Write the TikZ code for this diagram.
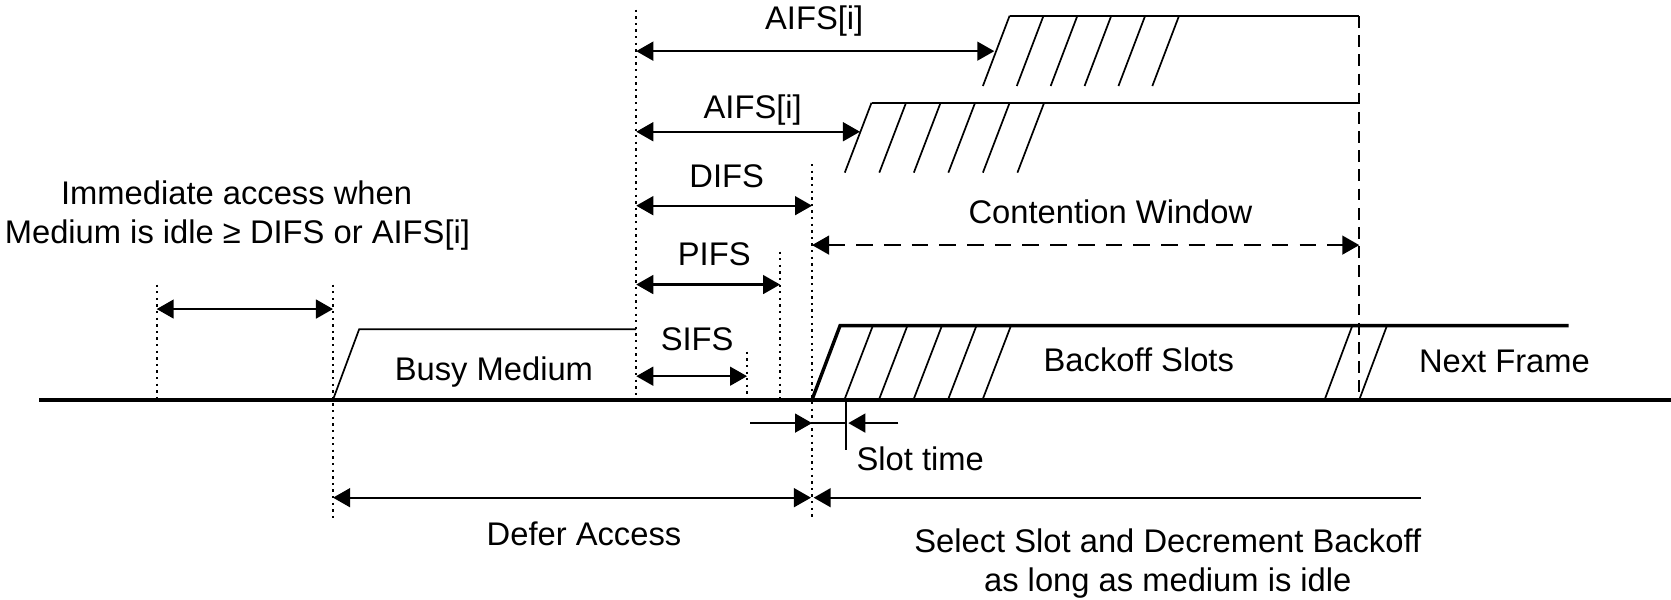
\documentclass[tikz,border=0pt]{standalone}
\usepackage{fontspec}
\setmainfont{Liberation Sans}
\usetikzlibrary{arrows.meta}
\begin{document}
\begin{tikzpicture}[x=0.5pt,y=-0.5pt,
  >={Triangle[length=8pt,width=8.8pt]},
  lbl/.style={anchor=base,inner sep=0pt,font=\fontsize{15.35pt}{18pt}\selectfont},
  baseln/.style={line width=1.9pt},
  thinln/.style={line width=0.8pt},
  thickln/.style={line width=1.6pt},
  dotln/.style={line width=0.9pt,dash pattern=on 1.1pt off 2pt},
  dashln/.style={line width=0.9pt,dash pattern=on 5.5pt off 3.5pt},
  dimln/.style={line width=1.1pt,<->},
  cwln/.style={line width=1.1pt,<->,dash pattern=on 7.8pt off 5.2pt},
  oneway/.style={line width=1.1pt,->},
]
\useasboundingbox (0,0) rectangle (1568,563);

% marker coordinates
\coordinate (Atop) at (147,267);   \coordinate (Abot) at (147,375);
\coordinate (Btop) at (312.5,267); \coordinate (Bbot) at (312.5,488);
\coordinate (Ctop) at (597,9);     \coordinate (Cbot) at (597,375);
\coordinate (Dtop) at (762,154);   \coordinate (Dbot) at (762,488);
\coordinate (Etop) at (732,236);   \coordinate (Ebot) at (732,375);
\coordinate (Ftop) at (701,330);   \coordinate (Fbot) at (701,375);
\coordinate (Rtop) at (1275.5,15); \coordinate (Rbot) at (1275.5,375);
\coordinate (L0) at (37,375);      \coordinate (L1) at (1568,375);

% vertical markers
\draw[dotln] (Atop) -- (Abot);
\draw[dotln] (Btop) -- (Bbot);
\draw[dotln] (Ctop) -- (Cbot);
\draw[dotln] (Dtop) -- (Dbot);
\draw[dotln] (Etop) -- (Ebot);
\draw[dotln] (Ftop) -- (Fbot);
\draw[dashln] (Rtop) -- (Rbot);

% time axis
\draw[baseln] (L0) -- (L1);

% busy medium
\coordinate (bm1) at (337,309);
\coordinate (bm2) at (597,309);
\draw[thinln] (312.5,375) -- (bm1) -- (bm2);

% top hatched block (AIFS[i] #1)
\foreach \k in {0,...,5}
  \draw[thinln] ({922.3+31.8*\k},80.7) -- ({947.4+31.8*\k},14.7);
\coordinate (h1a) at (947.4,14.7);
\coordinate (h1b) at (1275.5,14.7);
\draw[thinln] (h1a) -- (h1b);

% second hatched block (AIFS[i] #2)
\foreach \k in {0,...,5}
  \draw[thinln] ({792.7+32.4*\k},162) -- ({817.8+32.4*\k},96.4);
\coordinate (h2a) at (817.8,96.4);
\coordinate (h2b) at (1275.5,96.4);
\draw[thinln] (h2a) -- (h2b);

% backoff slots and next frame
\coordinate (bo0) at (762,375);
\coordinate (bo1) at (788.3,305.5);
\coordinate (bo2) at (1472,305.5);
\draw[thickln,line join=miter] (bo0) -- (bo1) -- (bo2);
\foreach \k in {0,...,4}
  \draw[thinln] ({792.4+32.4*\k},375) -- ({819.1+32.4*\k},305.5);
\draw[thinln] (1243,375) -- (1269,305.5);
\draw[thinln] (1275.5,375) -- (1301.5,305.5);

% dimension arrows
\coordinate (im0) at (147,290);   \coordinate (im1) at (312.5,290);
\draw[dimln] (im0) -- (im1);
\coordinate (a10) at (597,48);    \coordinate (a11) at (933,48);
\draw[dimln] (a10) -- (a11);
\coordinate (a20) at (597,123.6); \coordinate (a21) at (807,123.6);
\draw[dimln] (a20) -- (a21);
\coordinate (d0) at (597,193);    \coordinate (d1) at (762,193);
\draw[dimln] (d0) -- (d1);
\coordinate (p0) at (597,267);    \coordinate (p1) at (732,267);
\draw[dimln] (p0) -- (p1);
\coordinate (s0) at (597,353);    \coordinate (s1) at (701,353);
\draw[dimln] (s0) -- (s1);
\coordinate (cw0) at (762,230);   \coordinate (cw1) at (1275.5,230);
\draw[cwln] (cw0) -- (cw1);

% slot time
\coordinate (st0) at (704,397);   \coordinate (st1) at (762,397);
\coordinate (st2) at (794,397);   \coordinate (st3) at (843,397);
\coordinate (st4) at (796,397);
\coordinate (sv0) at (794,375);   \coordinate (sv1) at (794,422);
\draw[oneway] (st0) -- (st1);
\draw[line width=1.1pt] (st1) -- (st2);
\draw[oneway] (st3) -- (st4);
\draw[line width=1.1pt] (sv0) -- (sv1);

% defer / select
\coordinate (df0) at (312.5,467); \coordinate (df1) at (761,467);
\draw[dimln] (df0) -- (df1);
\coordinate (se0) at (1333,467);  \coordinate (se1) at (763.5,467);
\draw[oneway] (se0) -- (se1);

% labels
\node[lbl] (tAIFS1) at (764,27.5) {AIFS[i]};
\node[lbl] (tAIFS2) at (706.3,111) {AIFS[i]};
\node[lbl] (tDIFS) at (681.9,176) {DIFS};
\node[lbl] (tPIFS) at (670.2,249) {PIFS};
\node[lbl] (tSIFS) at (654.2,329) {SIFS};
\node[lbl] (tBusy) at (463.5,357) {Busy Medium};
\node[lbl] (tImm1) at (222,191.5) {Immediate access when};
\node[lbl] (tImm2) at (222.8,228.5) {Medium is idle ≥ DIFS or AIFS[i]};
\node[lbl] (tCW) at (1042,209.6) {Contention Window};
\node[lbl] (tBO) at (1068.6,349) {Backoff Slots};
\node[lbl] (tNF) at (1411.7,349.7) {Next Frame};
\node[lbl] (tST) at (863.5,441.7) {Slot time};
\node[lbl] (tDA) at (548,511.5) {Defer Access};
\node[lbl] (tSel1) at (1095.8,518.6) {Select Slot and Decrement Backoff};
\node[lbl] (tSel2) at (1095.8,555.2) {as long as medium is idle};
\end{tikzpicture}
\end{document}
